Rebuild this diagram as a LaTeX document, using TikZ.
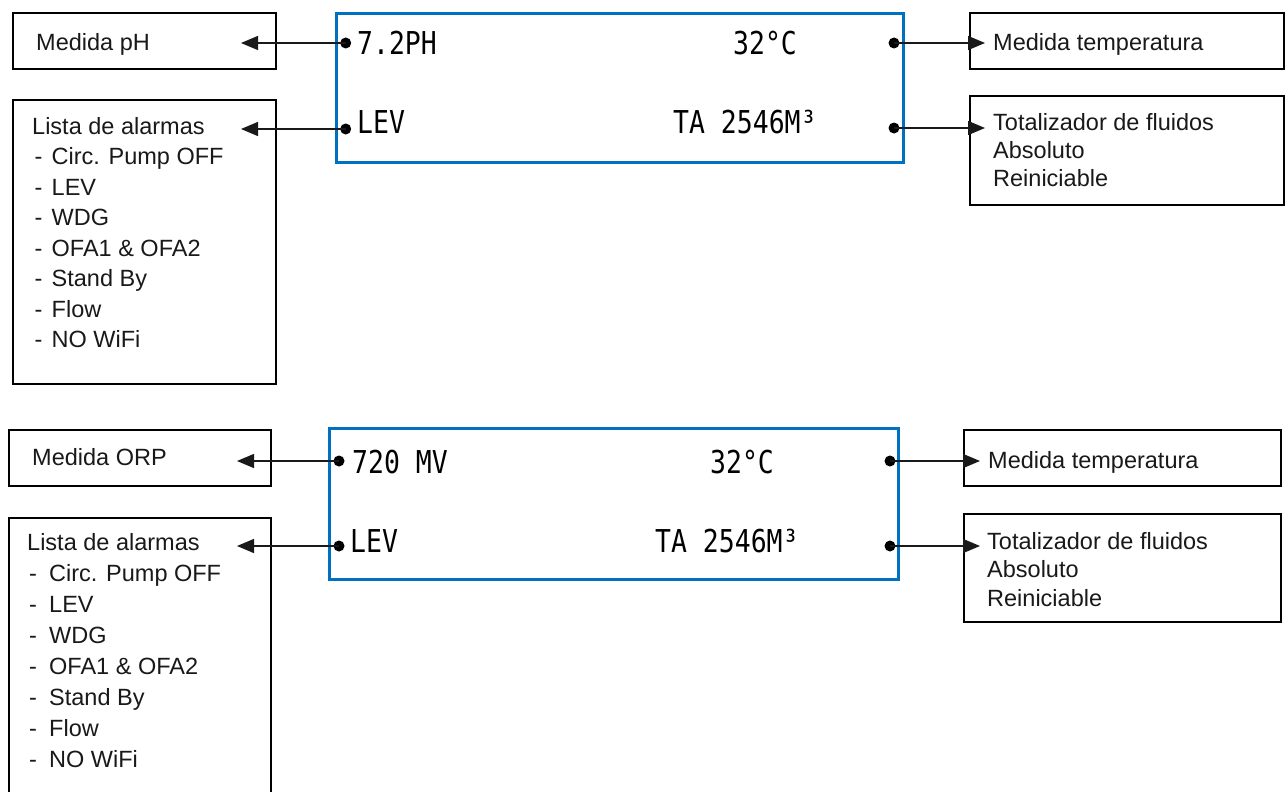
\documentclass[tikz,border=0pt]{standalone}
\usepackage{fontspec}
\setmainfont{Liberation Sans}
\newfontfamily\lcdfont[FakeStretch=0.84]{DejaVu Sans Mono}
\usetikzlibrary{arrows.meta}
\definecolor{lcdblue}{RGB}{0,112,192}
\definecolor{ink}{RGB}{25,25,25}
\newcommand\alitem[3]{\hspace{#1}\makebox[#2][l]{-}#3}
\begin{document}
\begin{tikzpicture}[x=1pt,y=-1pt,
  box/.style={draw=black,line width=2pt,rectangle,inner sep=0pt,anchor=north west},
  lcdbox/.style={draw=lcdblue,line width=3pt,rectangle,inner sep=0pt,anchor=north west},
  lbl/.style={font=\fontsize{23.5}{30.5}\selectfont,text=ink,inner sep=0pt,anchor=base west},
  multi/.style={font=\fontsize{23.5}{#1}\selectfont,text=ink,inner sep=0pt,anchor=north west,align=left},
  lcdtxt/.style={font=\lcdfont\fontsize{31.5}{32}\selectfont,text=black,inner sep=0pt,anchor=base west},
  dot/.style={circle,fill=black,inner sep=0pt,minimum size=11pt},
  conn/.style={draw=ink,line width=1.3pt,-{Triangle[length=17pt,width=14pt]}}
]
\useasboundingbox (0,0) rectangle (1286,792);
\clip (0,0) rectangle (1286,792);
\fill[white] (0,0) rectangle (1286,792);

% ---------- top section ----------
\node[box,minimum width=263pt,minimum height=56pt] (phbox) at (12,12) {};
\node[box,minimum width=263pt,minimum height=284pt] (al1box) at (12,99) {};
\node[lcdbox,minimum width=567pt,minimum height=149pt] (lcd1) at (335,12) {};
\node[box,minimum width=314pt,minimum height=56pt] (tp1box) at (969,12) {};
\node[box,minimum width=314pt,minimum height=109pt] (tot1box) at (969,95) {};

\node[lbl] (phtext) at (36,51) {Medida pH};
\node[multi=30.5pt] (al1text) at (32,117) {Lista de alarmas\\
\alitem{2.5pt}{17pt}{Circ. Pump OFF}\\
\alitem{2.5pt}{17pt}{LEV}\\
\alitem{2.5pt}{17pt}{WDG}\\
\alitem{2.5pt}{17pt}{OFA1 \& OFA2}\\
\alitem{2.5pt}{17pt}{Stand By}\\
\alitem{2.5pt}{17pt}{Flow}\\
\alitem{2.5pt}{17pt}{NO WiFi}};
\node[lbl] (tp1text) at (993,51) {Medida temperatura};
\node[multi=28pt] (tot1text) at (993,113) {Totalizador de fluidos\\Absoluto\\Reiniciable};

\node[lcdtxt] (ph) at (357,55) {7.2PH};
\node[lcdtxt] (t1) at (733,55) {32°C};
\node[lcdtxt] (lev1) at (357,133) {LEV};
\node[lcdtxt] (ta1) at (673,133) {TA 2546M³};

\node[dot] (d1a) at (345.7,43) {};
\node[dot] (d1b) at (345.7,129) {};
\node[dot] (d1c) at (894,43) {};
\node[dot] (d1d) at (894,128) {};
\coordinate (e1a) at (241,43);
\coordinate (e1b) at (241,129);
\coordinate (e1c) at (985,43);
\coordinate (e1d) at (985,128);
\draw[conn] (d1a.center) -- (e1a);
\draw[conn] (d1b.center) -- (e1b);
\draw[conn] (d1c.center) -- (e1c);
\draw[conn] (d1d.center) -- (e1d);

% ---------- bottom section ----------
\node[box,minimum width=262pt,minimum height=56pt] (orpbox) at (8,429) {};
\node[box,minimum width=262pt,minimum height=300pt] (al2box) at (8,517) {};
\node[lcdbox,minimum width=569pt,minimum height=151pt] (lcd2) at (328,427) {};
\node[box,minimum width=317pt,minimum height=56pt] (tp2box) at (963,429) {};
\node[box,minimum width=317pt,minimum height=108pt] (tot2box) at (963,513) {};

\node[lbl] (orptext) at (32,465) {Medida ORP};
\node[multi=31pt] (al2text) at (27,533) {Lista de alarmas\\
\alitem{2pt}{20pt}{Circ. Pump OFF}\\
\alitem{2pt}{20pt}{LEV}\\
\alitem{2pt}{20pt}{WDG}\\
\alitem{2pt}{20pt}{OFA1 \& OFA2}\\
\alitem{2pt}{20pt}{Stand By}\\
\alitem{2pt}{20pt}{Flow}\\
\alitem{2pt}{20pt}{NO WiFi}};
\node[lbl] (tp2text) at (988,468) {Medida temperatura};
\node[multi=28.5pt] (tot2text) at (987,532) {Totalizador de fluidos\\Absoluto\\Reiniciable};

\node[lcdtxt] (orp) at (352,473) {720 MV};
\node[lcdtxt] (t2) at (710,473) {32°C};
\node[lcdtxt] (lev2) at (350,552) {LEV};
\node[lcdtxt] (ta2) at (655,552) {TA 2546M³};

\node[dot] (d2a) at (339,461) {};
\node[dot] (d2b) at (339,546) {};
\node[dot] (d2c) at (890,461) {};
\node[dot] (d2d) at (890,546) {};
\coordinate (e2a) at (237,461);
\coordinate (e2b) at (237,546);
\coordinate (e2c) at (980,461);
\coordinate (e2d) at (980,546);
\draw[conn] (d2a.center) -- (e2a);
\draw[conn] (d2b.center) -- (e2b);
\draw[conn] (d2c.center) -- (e2c);
\draw[conn] (d2d.center) -- (e2d);
\end{tikzpicture}
\end{document}
